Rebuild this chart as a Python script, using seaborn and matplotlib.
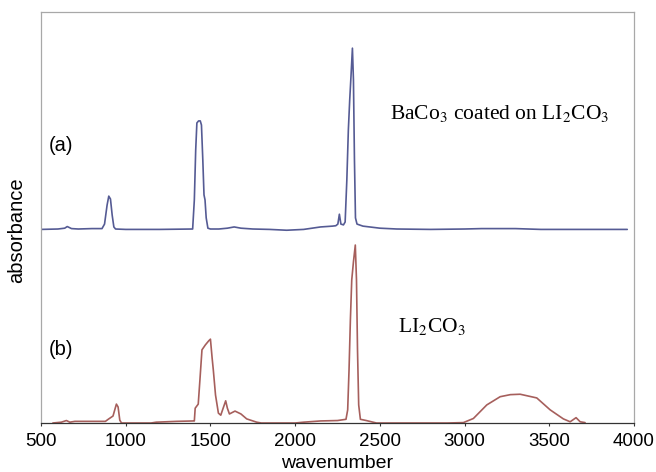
import matplotlib
matplotlib.use("Agg")
import matplotlib.pyplot as plt
import seaborn as sns
import pandas as pd

# FTIR spectra: wavenumber (cm^-1) and absorbance (offset, arbitrary units)
wn_a = [500, 600, 640, 655, 680, 720, 800, 860, 875, 890, 900, 910, 920, 930, 940,
        1000, 1200, 1395, 1405, 1413, 1420, 1430, 1440, 1447, 1455, 1462, 1468, 1475,
        1485, 1500, 1550, 1600, 1640, 1680, 1750, 1850, 1950, 2050, 2150, 2220, 2240,
        2252, 2261, 2270, 2285, 2295, 2305, 2314, 2322, 2330, 2338, 2344, 2350, 2356,
        2365, 2400, 2500, 2600, 2800, 3000, 3100, 3300, 3450, 3600, 3960]
abs_a = [0.471, 0.472, 0.474, 0.478, 0.473, 0.472, 0.473, 0.473, 0.484, 0.530, 0.552,
         0.545, 0.506, 0.477, 0.472, 0.471, 0.471, 0.472, 0.543, 0.664, 0.730, 0.735,
         0.735, 0.725, 0.640, 0.555, 0.543, 0.499, 0.474, 0.472, 0.472, 0.474, 0.477,
         0.474, 0.472, 0.471, 0.469, 0.471, 0.477, 0.479, 0.480, 0.484, 0.508, 0.484,
         0.482, 0.489, 0.591, 0.713, 0.786, 0.847, 0.912, 0.835, 0.640, 0.499, 0.484,
         0.479, 0.474, 0.472, 0.471, 0.472, 0.473, 0.473, 0.471, 0.471, 0.471]

wn_b = [570, 620, 650, 670, 700, 880, 900, 925, 945, 955, 965, 975, 1000, 1150, 1180,
        1300, 1400, 1405, 1410, 1428, 1438, 1450, 1470, 1490, 1500, 1510, 1517, 1530,
        1547, 1561, 1575, 1590, 1600, 1612, 1645, 1680, 1714, 1773, 1800, 2000, 2050,
        2150, 2250, 2300, 2310, 2318, 2326, 2334, 2344, 2355, 2362, 2368, 2375, 2385,
        2420, 2460, 2480, 2900, 2993, 3052, 3131, 3210, 3270, 3328, 3426, 3505, 3583,
        3623, 3658, 3682, 3711]
abs_b = [0.000, 0.002, 0.006, 0.002, 0.004, 0.004, 0.010, 0.017, 0.046, 0.039, 0.007,
         0.000, 0.000, 0.000, 0.002, 0.004, 0.005, 0.005, 0.036, 0.046, 0.105, 0.178,
         0.190, 0.200, 0.204, 0.158, 0.129, 0.068, 0.024, 0.019, 0.036, 0.054, 0.036,
         0.022, 0.029, 0.022, 0.010, 0.002, 0.000, 0.000, 0.002, 0.005, 0.006, 0.009,
         0.032, 0.129, 0.251, 0.348, 0.392, 0.433, 0.348, 0.178, 0.044, 0.009, 0.006,
         0.002, 0.000, 0.000, 0.001, 0.011, 0.044, 0.064, 0.069, 0.070, 0.061, 0.032,
         0.010, 0.003, 0.013, 0.003, 0.001]

x_ticks = [500, 1000, 1500, 2000, 2500, 3000, 3500, 4000]

sns.set_theme(style="white")
plt.rcParams["font.family"] = ["Liberation Sans", "DejaVu Sans"]
plt.rcParams["mathtext.fontset"] = "stix"
plt.rcParams["text.color"] = "black"
plt.rcParams["axes.labelcolor"] = "black"
plt.rcParams["xtick.color"] = "black"

fig = plt.figure(figsize=(6.56, 4.72), dpi=100)
ax = fig.add_axes([0.0625, 0.1038, 0.904, 0.8708])

df_a = pd.DataFrame({"wavenumber": wn_a, "absorbance": abs_a})
df_b = pd.DataFrame({"wavenumber": wn_b, "absorbance": abs_b})
sns.lineplot(data=df_a, x="wavenumber", y="absorbance", ax=ax, color="#555b94",
             lw=1.2, estimator=None, sort=False)
sns.lineplot(data=df_b, x="wavenumber", y="absorbance", ax=ax, color="#a65f5c",
             lw=1.2, estimator=None, sort=False)

ax.set_xlim(500, 4000)
ax.set_ylim(0, 1)
ax.set_xticks(x_ticks)
ax.set_yticks([])
ax.tick_params(axis="x", direction="out", length=2.5, width=0.8, color="#333333",
               labelsize=13.5, pad=4.5, bottom=True)

for side in ("left", "top", "right"):
    ax.spines[side].set_color("#a8a8a8")
    ax.spines[side].set_linewidth(0.9)
ax.spines["bottom"].set_color("#333333")
ax.spines["bottom"].set_linewidth(0.9)

ax.set_xlabel("wavenumber", fontsize=14)
ax.set_ylabel("absorbance", fontsize=14.5)
ax.xaxis.set_label_coords(0.5, -0.078)
ax.yaxis.set_label_coords(-0.025, 0.47)

ax.text(547, 0.676, "(a)", fontsize=14.5, ha="left", va="center")
ax.text(547, 0.178, "(b)", fontsize=14.5, ha="left", va="center")
ax.text(2560, 0.740, r"BaCo$_3$ coated on LI$_2$CO$_3$", fontsize=15.5,
        family="Liberation Serif", ha="left", va="baseline")
ax.text(2607, 0.222, r"LI$_2$CO$_3$", fontsize=15.5,
        family="Liberation Serif", ha="left", va="baseline")

fig.savefig("out.png", dpi=100)
